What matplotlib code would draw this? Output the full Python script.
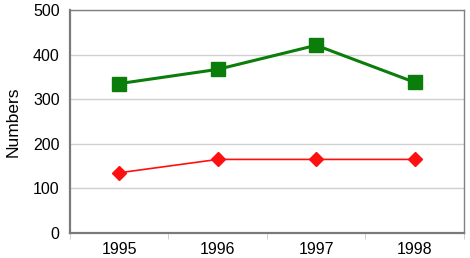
import matplotlib
matplotlib.use("Agg")
from matplotlib import pyplot as plt
import numpy as np

years = ["1995", "1996", "1997", "1998"]
green_vals = [335, 367, 421, 338]
red_vals = [135, 165, 165, 165]

plt.rcParams['font.family'] = ['Liberation Sans', 'DejaVu Sans']

fig = plt.figure(figsize=(4.7, 2.58), dpi=100)
ax = fig.add_axes([0.149, 0.097, 0.838, 0.864])

x = np.arange(len(years))
ax.plot(x, green_vals, color="#0a7d0a", lw=2.2, marker="s", ms=9.5, zorder=3)
ax.plot(x, red_vals, color="#ff1010", lw=1.2, marker="D", ms=7, zorder=3)

ax.set_xlim(-0.5, len(years) - 0.5)
ax.set_ylim(0, 500)
ax.set_yticks([0, 100, 200, 300, 400, 500])
ax.set_xticks(x)
ax.set_xticklabels(years)
ax.set_xticks(np.arange(-0.5, len(years), 1), minor=True)
ax.tick_params(axis="x", which="major", length=0, labelsize=11.5, pad=6.5)
ax.tick_params(axis="x", which="minor", length=4, color="#c8c8c8")
ax.tick_params(axis="y", length=0, labelsize=11.5, pad=7.5)
ax.grid(axis="y", color="#d0d0d0", lw=1)
ax.set_axisbelow(True)
for s in ["top", "right"]:
    ax.spines[s].set_color("#808080")
    ax.spines[s].set_linewidth(1)
for s in ["left", "bottom"]:
    ax.spines[s].set_color("#7a7a7a")
    ax.spines[s].set_linewidth(1.6)
ax.set_ylabel("Numbers", fontsize=12.5, labelpad=9)

plt.savefig("out.png", dpi=100)
